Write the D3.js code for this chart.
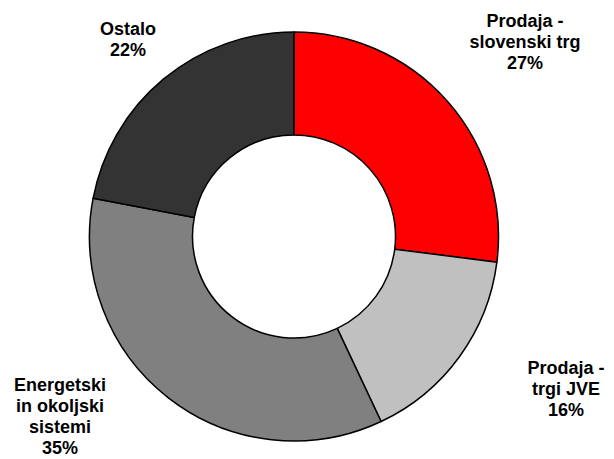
<!DOCTYPE html>
<html><head><meta charset="utf-8">
<script src="https://cdn.jsdelivr.net/npm/d3@7"></script>
<style>html,body{margin:0;padding:0;background:#fff;}svg{display:block;}</style>
</head><body>
<svg id="chart" width="614" height="459"></svg>
<script>
// Data
const categories = ["Prodaja - slovenski trg", "Prodaja - trgi JVE", "Energetski in okoljski sistemi", "Ostalo"];
const values = [27, 16, 35, 22];
const labelLines = [
  ["Prodaja -", "slovenski trg", "27%"],
  ["Prodaja  -", "trgi JVE", "16%"],
  ["Energetski", "in okoljski", "sistemi", "35%"],
  ["Ostalo", "22%"]
];
const colors = ["#FF0000", "#C0C0C0", "#808080", "#333333"];

// Layout
const cx = 294, cy = 236.5, outerR = 204.5, innerR = 101.5;
const labelPos = [[525, 21], [566, 368], [60, 385], [128, 29]]; // first line centres
const lineH = 21;

const svg = d3.select("#chart");
const g = svg.append("g").attr("transform", `translate(${cx},${cy})`);
const pie = d3.pie().sort(null).value(d => d)(values);
const arc = d3.arc().innerRadius(innerR).outerRadius(outerR);

g.selectAll("path").data(pie).join("path")
  .attr("d", arc)
  .attr("fill", (d, i) => colors[i])
  .attr("stroke", "#000")
  .attr("stroke-width", 1.5)
  .attr("stroke-linejoin", "round");

const lg = svg.append("g");
labelLines.forEach((lines, i) => {
  const t = lg.append("text")
    .attr("text-anchor", "middle")
    .attr("font-family", "'Liberation Sans', Arial, sans-serif")
    .attr("font-weight", "bold")
    .attr("font-size", 18)
    .attr("fill", "#000");
  lines.forEach((ln, j) => {
    t.append("tspan")
      .attr("x", labelPos[i][0])
      .attr("y", labelPos[i][1] + j * lineH)
      .attr("dy", "0.35em")
      .text(ln);
  });
});
</script>
</body></html>
